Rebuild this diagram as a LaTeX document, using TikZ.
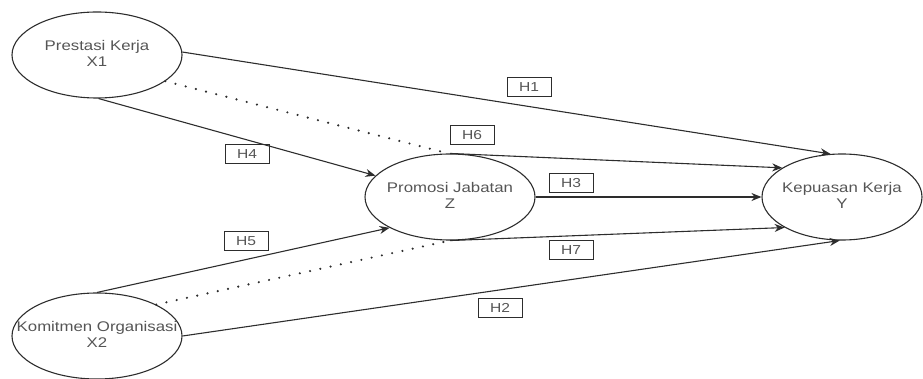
\documentclass[tikz,border=0pt]{standalone}
\usepackage{fontspec}
\setmainfont{Liberation Sans}[FakeStretch=1.2]
\usetikzlibrary{shapes.geometric,arrows.meta}
\definecolor{lncol}{RGB}{45,45,45}
\definecolor{txcol}{RGB}{85,85,85}
\newcommand{\vartext}[2]{\makebox[0pt][c]{\begin{tabular}{@{}c@{}}#1\\#2\end{tabular}}}
\begin{document}
\begin{tikzpicture}[x=1pt,y=-1pt,
  var/.style={ellipse,draw=lncol,line width=1.1pt,minimum width=170pt,minimum height=86pt,inner sep=0pt,
    text=txcol,font=\fontsize{14}{16}\selectfont},
  hlab/.style={draw=lncol,line width=1pt,minimum width=44pt,minimum height=19pt,inner sep=0pt,
    text=txcol,font=\fontsize{13}{14}\selectfont},
  arr/.style={draw=lncol,line width=1.1pt,-{Stealth[length=10pt,width=8pt]}},
  dot/.style={draw=lncol,line width=2.4pt,line cap=round,dash pattern=on 0pt off 10.5pt}]
\useasboundingbox (0,0) rectangle (923,379);
\node[var] (x1) at (97,55) {\vartext{Prestasi Kerja}{X1}};
\node[var] (x2) at (97,336) {\vartext{Komitmen Organisasi}{X2}};
\node[var] (z) at (450,197) {\vartext{Promosi Jabatan}{Z}};
\node[var,minimum width=160pt] (y) at (842,197) {\vartext{Kepuasan Kerja}{Y}};
% connectors
\draw[arr] (x1.2) -- (y.105);
\draw[arr] (x1.-88) -- (z.164);
\draw[dot] (x1.-21) -- (z.92);
\draw[arr] (z.north) -- (y.154);
\draw[arr] (z.east) -- (y.west);
\draw[arr] (z.south) -- (y.-152);
\draw[arr] (x2.north) -- (z.-153);
\draw[dot] (x2.28) -- (z.-90);
\draw[arr] (x2.east) -- (y.-93);
% labels
\node[hlab] (h1) at (529,87.5) {H1};
\node[hlab] (h6) at (472,135.5) {H6};
\node[hlab] (h3) at (571,183) {H3};
\node[hlab] (h4) at (247,154.5) {H4};
\node[hlab] (h5) at (246,241) {H5};
\node[hlab] (h7) at (571,250) {H7};
\node[hlab] (h2) at (500,307.5) {H2};
\end{tikzpicture}
\end{document}
